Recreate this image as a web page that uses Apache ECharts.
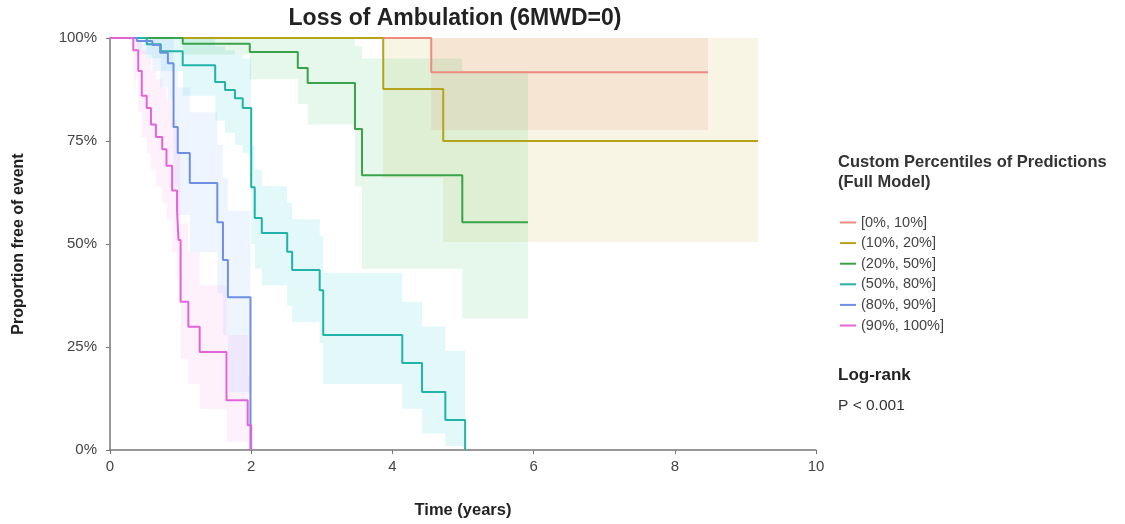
<!DOCTYPE html>
<html>
<head>
<meta charset="utf-8">
<script src="https://cdn.jsdelivr.net/npm/echarts@6/dist/echarts.min.js"></script>
<style>
html,body{margin:0;padding:0;background:#fff;}
#chart{width:1125px;height:524px;}
</style>
</head>
<body>
<div id="chart"></div>
<script>
// ---- data ----
const groupNames = ['[0%, 10%]', '(10%, 20%]', '(20%, 50%]', '(50%, 80%]', '(80%, 90%]', '(90%, 100%]'];
const xTicks = [0, 2, 4, 6, 8, 10];
const yTicks = [0, 25, 50, 75, 100];

const redTime = [0, 4.55, 8.47];
const redSurv = [100, 91.7, 91.7];
const redLow  = [100, 77.7, 77.7];
const redUp   = [100, 100, 100];

const yelTime = [0, 3.87, 4.72, 9.18];
const yelSurv = [100, 87.6, 75, 75];
const yelLow  = [100, 66, 50.5, 50.5];
const yelUp   = [100, 100, 100, 100];

const grnTime = [0, 1.03, 1.98, 2.66, 2.8, 3.47, 3.57, 4.99, 5.92];
const grnSurv = [100, 98.6, 96.6, 92.7, 89.1, 77.9, 66.7, 55.3, 55.3];
const grnLow  = [100, 96, 90, 84, 79, 64, 44, 32, 32];
const grnUp   = [100, 100, 100, 100, 100, 98, 95, 92, 92];

const tealTime = [0, 0.52, 0.72, 1.03, 1.49, 1.63, 1.77, 1.88, 2.0, 2.05, 2.15, 2.51, 2.58, 2.97, 3.02, 4.14, 4.42, 4.75, 5.03];
const tealSurv = [100, 98.5, 96.8, 93.4, 89.3, 87.4, 85.4, 83.0, 63.8, 56.3, 52.7, 48.1, 43.7, 38.8, 27.9, 21.1, 14.1, 7.3, 0];
const tealLow  = [100, 95, 92, 86, 80, 77, 74, 72, 50, 44, 40, 35, 31, 26, 16, 10, 4, 1, 0];
const tealUp   = [100, 100, 100, 100, 98, 97, 96, 95, 74, 68, 64, 60, 56, 52, 43, 36, 30, 24, 0];

const bluTime = [0, 0.38, 0.6, 0.71, 0.82, 0.9, 0.96, 1.13, 1.52, 1.6, 1.67, 1.99];
const bluSurv = [100, 99.3, 98.3, 96.4, 93.9, 78.4, 72.1, 64.8, 55.3, 46.1, 37.1, 0];
const bluLow  = [100, 96, 92, 88, 85, 64, 57, 48, 38, 28, 14, 0];
const bluUp   = [100, 100, 100, 100, 100, 92, 88, 82, 74, 66, 58, 0];

const pnkTime = [0, 0.33, 0.40, 0.45, 0.52, 0.58, 0.65, 0.74, 0.80, 0.88, 0.95, 0.97, 1.0, 1.11, 1.27, 1.65, 1.95, 2.0];
const pnkSurv = [100, 97, 92, 86, 83, 79, 76, 73, 69, 63, 58, 51, 36, 29.9, 23.8, 12.1, 6, 0];
const pnkLow  = [100, 90, 82, 76, 72, 68, 64, 60, 56, 48, 42, 36, 22, 16, 10, 2, 0, 0];
const pnkUp   = [100, 100, 99, 97, 95, 92, 90, 88, 85, 80, 76, 72, 55, 48, 40, 28, 18, 0];

// ---- styling ----
const lineColors = ['#ee8a80', '#b5a31c', '#3aa24a', '#22b3a8', '#6d8fe4', '#e264d6'];
const bandColors = ['rgba(248,118,109,0.13)', 'rgba(200,175,40,0.12)', 'rgba(0,186,56,0.10)',
                    'rgba(0,191,196,0.11)', 'rgba(97,156,255,0.10)', 'rgba(245,100,227,0.09)'];

const groups = [
  [redTime, redSurv, redLow, redUp],
  [yelTime, yelSurv, yelLow, yelUp],
  [grnTime, grnSurv, grnLow, grnUp],
  [tealTime, tealSurv, tealLow, tealUp],
  [bluTime, bluSurv, bluLow, bluUp],
  [pnkTime, pnkSurv, pnkLow, pnkUp]
];

function bandPolygon(t, lo, up) {
  const pts = [];
  for (let i = 0; i < t.length - 1; i++) { pts.push([t[i], up[i]]); pts.push([t[i + 1], up[i]]); }
  for (let i = t.length - 2; i >= 0; i--) { pts.push([t[i + 1], lo[i]]); pts.push([t[i], lo[i]]); }
  return pts;
}

const series = [];
groups.forEach((g, k) => {
  const poly = bandPolygon(g[0], g[2], g[3]);
  series.push({
    type: 'custom',
    z: 1,
    silent: true,
    data: [[0, 0]],
    renderItem: function (params, api) {
      return {
        type: 'polygon',
        shape: { points: poly.map(p => api.coord(p)) },
        style: { fill: bandColors[k], stroke: null }
      };
    }
  });
});
groups.forEach((g, k) => {
  series.push({
    name: groupNames[k],
    type: 'line',
    step: 'end',
    z: 3,
    showSymbol: false,
    symbol: 'none',
    color: lineColors[k],
    lineStyle: { width: 2, color: lineColors[k] },
    data: g[0].map((t, i) => [t, g[1][i]])
  });
});

const chart = echarts.init(document.getElementById('chart'), null, { renderer: 'canvas' });
chart.setOption({
  backgroundColor: '#ffffff',
  animation: false,
  textStyle: { fontFamily: 'Liberation Sans, Arial, sans-serif' },
  title: [
    { text: 'Loss of Ambulation (6MWD=0)', left: 455, top: 7, textAlign: 'center', padding: 0,
      textStyle: { fontSize: 23, fontWeight: 'bold', color: '#222' } },
    { text: 'Custom Percentiles of Predictions\n(Full Model)', left: 838, top: 152, padding: 0,
      textStyle: { fontSize: 16.5, fontWeight: 'bold', color: '#333', lineHeight: 20 } },
    { text: 'Log-rank', left: 838, top: 367, padding: 0,
      textStyle: { fontSize: 17, fontWeight: 'bold', color: '#222' } },
    { text: 'P < 0.001', left: 838, top: 398, padding: 0,
      textStyle: { fontSize: 15.5, fontWeight: 'normal', color: '#333' } }
  ],
  legend: {
    orient: 'vertical',
    left: 840,
    top: 215,
    padding: 0,
    itemWidth: 16,
    itemHeight: 2,
    itemGap: 5.6,
    icon: 'rect',
    data: groupNames,
    selectedMode: false,
    textStyle: { fontSize: 14.5, color: '#444', lineHeight: 14, height: 14 }
  },
  grid: { left: 110, right: 309, top: 38, bottom: 74, containLabel: false },
  xAxis: {
    type: 'value', min: 0, max: 10, interval: 2,
    name: 'Time (years)', nameLocation: 'middle', nameGap: 52,
    nameTextStyle: { fontSize: 16.5, fontWeight: 'bold', color: '#222' },
    axisLine: { show: true, lineStyle: { color: '#777', width: 1.5 } },
    axisTick: { show: true, length: 4, lineStyle: { color: '#777' } },
    axisLabel: { fontSize: 15, color: '#444', margin: 9,
      formatter: v => xTicks.includes(v) ? String(v) : '' },
    splitLine: { show: false }
  },
  yAxis: {
    type: 'value', min: 0, max: 100, interval: 25,
    name: 'Proportion free of event', nameLocation: 'middle', nameGap: 83,
    nameTextStyle: { fontSize: 16, fontWeight: 'bold', color: '#222' },
    axisLine: { show: true, lineStyle: { color: '#777', width: 1.5 } },
    axisTick: { show: true, length: 4, lineStyle: { color: '#777' } },
    axisLabel: { fontSize: 15, color: '#444', margin: 13,
      formatter: v => yTicks.includes(v) ? v + '%' : '' },
    splitLine: { show: false }
  },
  series: series
});
</script>
</body>
</html>
